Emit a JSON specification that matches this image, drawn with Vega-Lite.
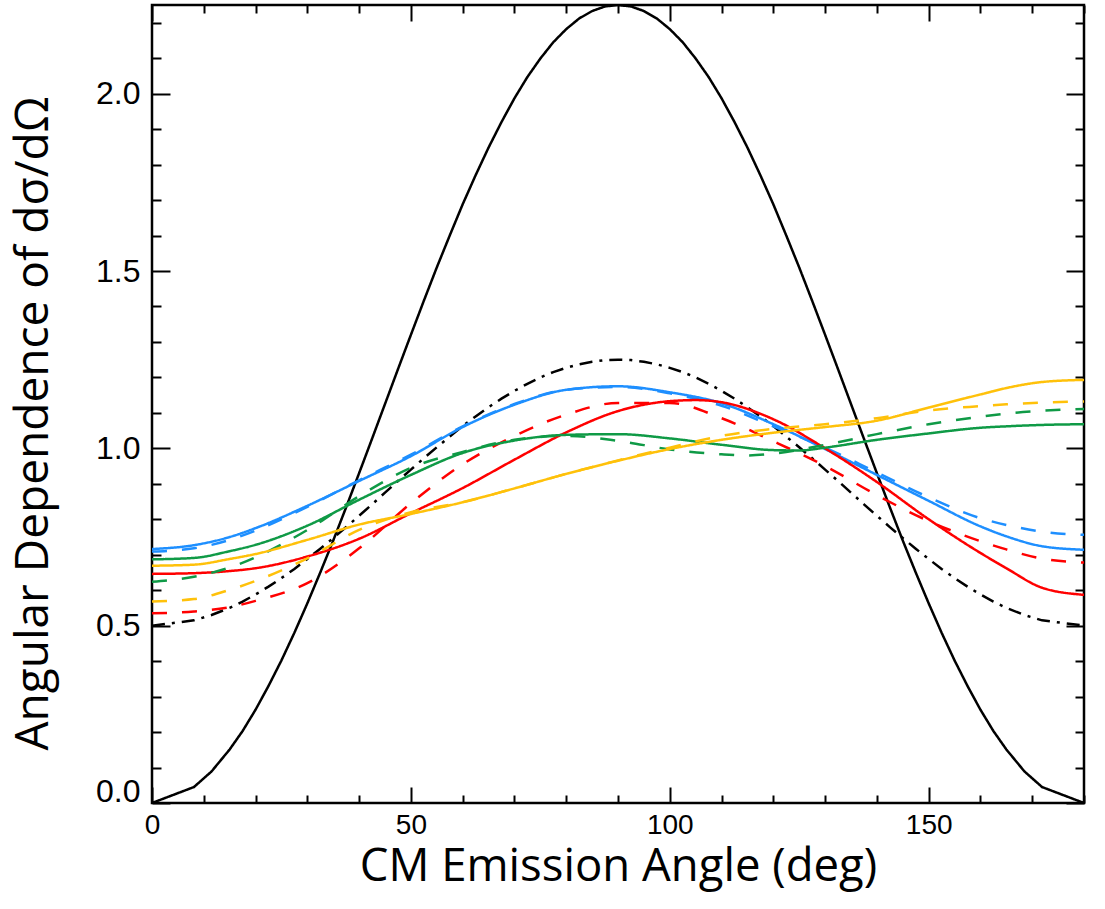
{
  "$schema": "https://vega.github.io/schema/vega-lite/v6.json",
  "autosize": "none",
  "width": 932,
  "height": 798,
  "padding": {"left": 152, "top": 5, "right": 21, "bottom": 106},
  "background": "white",
  "config": {"view": {"stroke": "black", "strokeWidth": 2.5}},
  "datasets": {
    "col": [
      {"a":0,"c":"blue","s":"solid","v":0.716},{"a":8.1,"c":"blue","s":"solid","v":0.727},{"a":15,"c":"blue","s":"solid","v":0.750},{"a":20,"c":"blue","s":"solid","v":0.775},{"a":30,"c":"blue","s":"solid","v":0.838},{"a":40,"c":"blue","s":"solid","v":0.908},{"a":50,"c":"blue","s":"solid","v":0.978},{"a":60,"c":"blue","s":"solid","v":1.060},{"a":70,"c":"blue","s":"solid","v":1.123},{"a":80,"c":"blue","s":"solid","v":1.165},{"a":90,"c":"blue","s":"solid","v":1.175},{"a":100,"c":"blue","s":"solid","v":1.158},{"a":110,"c":"blue","s":"solid","v":1.127},{"a":120,"c":"blue","s":"solid","v":1.068},{"a":130,"c":"blue","s":"solid","v":0.998},{"a":140,"c":"blue","s":"solid","v":0.925},{"a":150,"c":"blue","s":"solid","v":0.852},{"a":160,"c":"blue","s":"solid","v":0.780},{"a":165,"c":"blue","s":"solid","v":0.752},{"a":171.9,"c":"blue","s":"solid","v":0.724},{"a":180,"c":"blue","s":"solid","v":0.714},
      {"a":0,"c":"blue","s":"dashed","v":0.709},{"a":8.1,"c":"blue","s":"dashed","v":0.718},{"a":15,"c":"blue","s":"dashed","v":0.742},{"a":20,"c":"blue","s":"dashed","v":0.768},{"a":30,"c":"blue","s":"dashed","v":0.835},{"a":40,"c":"blue","s":"dashed","v":0.910},{"a":50,"c":"blue","s":"dashed","v":0.982},{"a":60,"c":"blue","s":"dashed","v":1.062},{"a":70,"c":"blue","s":"dashed","v":1.125},{"a":80,"c":"blue","s":"dashed","v":1.165},{"a":90,"c":"blue","s":"dashed","v":1.173},{"a":100,"c":"blue","s":"dashed","v":1.155},{"a":110,"c":"blue","s":"dashed","v":1.120},{"a":120,"c":"blue","s":"dashed","v":1.062},{"a":130,"c":"blue","s":"dashed","v":1.002},{"a":140,"c":"blue","s":"dashed","v":0.932},{"a":150,"c":"blue","s":"dashed","v":0.862},{"a":160,"c":"blue","s":"dashed","v":0.803},{"a":165,"c":"blue","s":"dashed","v":0.784},{"a":171.9,"c":"blue","s":"dashed","v":0.765},{"a":180,"c":"blue","s":"dashed","v":0.756},
      {"a":0,"c":"red","s":"solid","v":0.646},{"a":8.1,"c":"red","s":"solid","v":0.648},{"a":15,"c":"red","s":"solid","v":0.654},{"a":20,"c":"red","s":"solid","v":0.662},{"a":30,"c":"red","s":"solid","v":0.695},{"a":40,"c":"red","s":"solid","v":0.745},{"a":50,"c":"red","s":"solid","v":0.817},{"a":60,"c":"red","s":"solid","v":0.888},{"a":70,"c":"red","s":"solid","v":0.968},{"a":80,"c":"red","s":"solid","v":1.045},{"a":90,"c":"red","s":"solid","v":1.105},{"a":100,"c":"red","s":"solid","v":1.133},{"a":105,"c":"red","s":"solid","v":1.136},{"a":110,"c":"red","s":"solid","v":1.130},{"a":120,"c":"red","s":"solid","v":1.082},{"a":130,"c":"red","s":"solid","v":1.000},{"a":140,"c":"red","s":"solid","v":0.905},{"a":150,"c":"red","s":"solid","v":0.800},{"a":160,"c":"red","s":"solid","v":0.705},{"a":165,"c":"red","s":"solid","v":0.662},{"a":171.9,"c":"red","s":"solid","v":0.607},{"a":180,"c":"red","s":"solid","v":0.587},
      {"a":0,"c":"red","s":"dashed","v":0.535},{"a":8.1,"c":"red","s":"dashed","v":0.540},{"a":15,"c":"red","s":"dashed","v":0.552},{"a":20,"c":"red","s":"dashed","v":0.570},{"a":30,"c":"red","s":"dashed","v":0.620},{"a":40,"c":"red","s":"dashed","v":0.718},{"a":50,"c":"red","s":"dashed","v":0.845},{"a":60,"c":"red","s":"dashed","v":0.955},{"a":70,"c":"red","s":"dashed","v":1.035},{"a":80,"c":"red","s":"dashed","v":1.095},{"a":90,"c":"red","s":"dashed","v":1.128},{"a":100,"c":"red","s":"dashed","v":1.128},{"a":110,"c":"red","s":"dashed","v":1.085},{"a":120,"c":"red","s":"dashed","v":1.020},{"a":130,"c":"red","s":"dashed","v":0.950},{"a":140,"c":"red","s":"dashed","v":0.868},{"a":150,"c":"red","s":"dashed","v":0.795},{"a":160,"c":"red","s":"dashed","v":0.738},{"a":165,"c":"red","s":"dashed","v":0.715},{"a":171.9,"c":"red","s":"dashed","v":0.689},{"a":180,"c":"red","s":"dashed","v":0.678},
      {"a":0,"c":"green","s":"solid","v":0.687},{"a":8.1,"c":"green","s":"solid","v":0.691},{"a":15,"c":"green","s":"solid","v":0.710},{"a":20,"c":"green","s":"solid","v":0.728},{"a":30,"c":"green","s":"solid","v":0.782},{"a":40,"c":"green","s":"solid","v":0.855},{"a":50,"c":"green","s":"solid","v":0.925},{"a":60,"c":"green","s":"solid","v":0.987},{"a":70,"c":"green","s":"solid","v":1.022},{"a":80,"c":"green","s":"solid","v":1.038},{"a":90,"c":"green","s":"solid","v":1.040},{"a":100,"c":"green","s":"solid","v":1.028},{"a":110,"c":"green","s":"solid","v":1.010},{"a":120,"c":"green","s":"solid","v":0.995},{"a":125,"c":"green","s":"solid","v":0.994},{"a":130,"c":"green","s":"solid","v":1.002},{"a":140,"c":"green","s":"solid","v":1.024},{"a":150,"c":"green","s":"solid","v":1.042},{"a":160,"c":"green","s":"solid","v":1.058},{"a":165,"c":"green","s":"solid","v":1.062},{"a":171.9,"c":"green","s":"solid","v":1.066},{"a":180,"c":"green","s":"solid","v":1.068},
      {"a":0,"c":"green","s":"dashed","v":0.624},{"a":8.1,"c":"green","s":"dashed","v":0.638},{"a":15,"c":"green","s":"dashed","v":0.664},{"a":20,"c":"green","s":"dashed","v":0.693},{"a":30,"c":"green","s":"dashed","v":0.770},{"a":40,"c":"green","s":"dashed","v":0.865},{"a":50,"c":"green","s":"dashed","v":0.945},{"a":60,"c":"green","s":"dashed","v":0.990},{"a":70,"c":"green","s":"dashed","v":1.024},{"a":80,"c":"green","s":"dashed","v":1.035},{"a":90,"c":"green","s":"dashed","v":1.021},{"a":100,"c":"green","s":"dashed","v":0.997},{"a":110,"c":"green","s":"dashed","v":0.983},{"a":115,"c":"green","s":"dashed","v":0.980},{"a":120,"c":"green","s":"dashed","v":0.985},{"a":130,"c":"green","s":"dashed","v":1.010},{"a":140,"c":"green","s":"dashed","v":1.040},{"a":150,"c":"green","s":"dashed","v":1.068},{"a":160,"c":"green","s":"dashed","v":1.089},{"a":165,"c":"green","s":"dashed","v":1.098},{"a":171.9,"c":"green","s":"dashed","v":1.106},{"a":180,"c":"green","s":"dashed","v":1.111},
      {"a":0,"c":"yellow","s":"solid","v":0.669},{"a":8.1,"c":"yellow","s":"solid","v":0.672},{"a":15,"c":"yellow","s":"solid","v":0.688},{"a":20,"c":"yellow","s":"solid","v":0.702},{"a":30,"c":"yellow","s":"solid","v":0.742},{"a":40,"c":"yellow","s":"solid","v":0.785},{"a":50,"c":"yellow","s":"solid","v":0.815},{"a":60,"c":"yellow","s":"solid","v":0.848},{"a":70,"c":"yellow","s":"solid","v":0.887},{"a":80,"c":"yellow","s":"solid","v":0.928},{"a":90,"c":"yellow","s":"solid","v":0.965},{"a":100,"c":"yellow","s":"solid","v":0.998},{"a":110,"c":"yellow","s":"solid","v":1.024},{"a":120,"c":"yellow","s":"solid","v":1.044},{"a":130,"c":"yellow","s":"solid","v":1.060},{"a":140,"c":"yellow","s":"solid","v":1.078},{"a":150,"c":"yellow","s":"solid","v":1.115},{"a":160,"c":"yellow","s":"solid","v":1.152},{"a":165,"c":"yellow","s":"solid","v":1.170},{"a":171.9,"c":"yellow","s":"solid","v":1.187},{"a":180,"c":"yellow","s":"solid","v":1.193},
      {"a":0,"c":"yellow","s":"dashed","v":0.568},{"a":8.1,"c":"yellow","s":"dashed","v":0.575},{"a":15,"c":"yellow","s":"dashed","v":0.601},{"a":20,"c":"yellow","s":"dashed","v":0.626},{"a":30,"c":"yellow","s":"dashed","v":0.690},{"a":40,"c":"yellow","s":"dashed","v":0.770},{"a":50,"c":"yellow","s":"dashed","v":0.820},{"a":60,"c":"yellow","s":"dashed","v":0.848},{"a":70,"c":"yellow","s":"dashed","v":0.887},{"a":80,"c":"yellow","s":"dashed","v":0.928},{"a":90,"c":"yellow","s":"dashed","v":0.966},{"a":100,"c":"yellow","s":"dashed","v":1.002},{"a":110,"c":"yellow","s":"dashed","v":1.035},{"a":120,"c":"yellow","s":"dashed","v":1.055},{"a":130,"c":"yellow","s":"dashed","v":1.068},{"a":140,"c":"yellow","s":"dashed","v":1.085},{"a":150,"c":"yellow","s":"dashed","v":1.107},{"a":160,"c":"yellow","s":"dashed","v":1.119},{"a":165,"c":"yellow","s":"dashed","v":1.124},{"a":171.9,"c":"yellow","s":"dashed","v":1.129},{"a":180,"c":"yellow","s":"dashed","v":1.132}
    ],
    "blk": [
      {"a":0,"c":"black","s":"solid","v":0},{"a":8.1,"c":"black","s":"solid","v":0.045},{"a":11.5,"c":"black","s":"solid","v":0.089},{"a":15,"c":"black","s":"solid","v":0.151},{"a":17.5,"c":"black","s":"solid","v":0.203},{"a":20,"c":"black","s":"solid","v":0.263},{"a":22.5,"c":"black","s":"solid","v":0.330},{"a":25,"c":"black","s":"solid","v":0.402},{"a":27.5,"c":"black","s":"solid","v":0.480},{"a":30,"c":"black","s":"solid","v":0.563},{"a":32.5,"c":"black","s":"solid","v":0.650},{"a":35,"c":"black","s":"solid","v":0.740},{"a":37.5,"c":"black","s":"solid","v":0.834},{"a":40,"c":"black","s":"solid","v":0.930},{"a":42.5,"c":"black","s":"solid","v":1.027},{"a":45,"c":"black","s":"solid","v":1.125},{"a":47.5,"c":"black","s":"solid","v":1.223},{"a":50,"c":"black","s":"solid","v":1.320},{"a":52.5,"c":"black","s":"solid","v":1.416},{"a":55,"c":"black","s":"solid","v":1.510},{"a":57.5,"c":"black","s":"solid","v":1.600},{"a":60,"c":"black","s":"solid","v":1.688},{"a":62.5,"c":"black","s":"solid","v":1.770},{"a":65,"c":"black","s":"solid","v":1.848},{"a":67.5,"c":"black","s":"solid","v":1.920},{"a":70,"c":"black","s":"solid","v":1.987},{"a":72.5,"c":"black","s":"solid","v":2.047},{"a":75,"c":"black","s":"solid","v":2.099},{"a":77.5,"c":"black","s":"solid","v":2.145},{"a":80,"c":"black","s":"solid","v":2.182},{"a":82.5,"c":"black","s":"solid","v":2.212},{"a":85,"c":"black","s":"solid","v":2.233},{"a":87.5,"c":"black","s":"solid","v":2.246},{"a":90,"c":"black","s":"solid","v":2.25},{"a":92.5,"c":"black","s":"solid","v":2.246},{"a":95,"c":"black","s":"solid","v":2.233},{"a":97.5,"c":"black","s":"solid","v":2.212},{"a":100,"c":"black","s":"solid","v":2.182},{"a":102.5,"c":"black","s":"solid","v":2.145},{"a":105,"c":"black","s":"solid","v":2.099},{"a":107.5,"c":"black","s":"solid","v":2.047},{"a":110,"c":"black","s":"solid","v":1.987},{"a":112.5,"c":"black","s":"solid","v":1.920},{"a":115,"c":"black","s":"solid","v":1.848},{"a":117.5,"c":"black","s":"solid","v":1.770},{"a":120,"c":"black","s":"solid","v":1.688},{"a":122.5,"c":"black","s":"solid","v":1.600},{"a":125,"c":"black","s":"solid","v":1.510},{"a":127.5,"c":"black","s":"solid","v":1.416},{"a":130,"c":"black","s":"solid","v":1.320},{"a":132.5,"c":"black","s":"solid","v":1.223},{"a":135,"c":"black","s":"solid","v":1.125},{"a":137.5,"c":"black","s":"solid","v":1.027},{"a":140,"c":"black","s":"solid","v":0.930},{"a":142.5,"c":"black","s":"solid","v":0.834},{"a":145,"c":"black","s":"solid","v":0.740},{"a":147.5,"c":"black","s":"solid","v":0.650},{"a":150,"c":"black","s":"solid","v":0.563},{"a":152.5,"c":"black","s":"solid","v":0.480},{"a":155,"c":"black","s":"solid","v":0.402},{"a":157.5,"c":"black","s":"solid","v":0.330},{"a":160,"c":"black","s":"solid","v":0.263},{"a":162.5,"c":"black","s":"solid","v":0.203},{"a":165,"c":"black","s":"solid","v":0.151},{"a":168.5,"c":"black","s":"solid","v":0.089},{"a":171.9,"c":"black","s":"solid","v":0.045},{"a":180,"c":"black","s":"solid","v":0},
      {"a":0,"c":"black","s":"dashdot","v":0.500},{"a":8.1,"c":"black","s":"dashdot","v":0.515},{"a":11.5,"c":"black","s":"dashdot","v":0.530},{"a":15,"c":"black","s":"dashdot","v":0.550},{"a":17.5,"c":"black","s":"dashdot","v":0.568},{"a":20,"c":"black","s":"dashdot","v":0.588},{"a":22.5,"c":"black","s":"dashdot","v":0.610},{"a":25,"c":"black","s":"dashdot","v":0.634},{"a":27.5,"c":"black","s":"dashdot","v":0.660},{"a":30,"c":"black","s":"dashdot","v":0.688},{"a":32.5,"c":"black","s":"dashdot","v":0.717},{"a":35,"c":"black","s":"dashdot","v":0.747},{"a":37.5,"c":"black","s":"dashdot","v":0.778},{"a":40,"c":"black","s":"dashdot","v":0.810},{"a":42.5,"c":"black","s":"dashdot","v":0.842},{"a":45,"c":"black","s":"dashdot","v":0.875},{"a":47.5,"c":"black","s":"dashdot","v":0.908},{"a":50,"c":"black","s":"dashdot","v":0.940},{"a":52.5,"c":"black","s":"dashdot","v":0.972},{"a":55,"c":"black","s":"dashdot","v":1.003},{"a":57.5,"c":"black","s":"dashdot","v":1.033},{"a":60,"c":"black","s":"dashdot","v":1.063},{"a":62.5,"c":"black","s":"dashdot","v":1.090},{"a":65,"c":"black","s":"dashdot","v":1.116},{"a":67.5,"c":"black","s":"dashdot","v":1.140},{"a":70,"c":"black","s":"dashdot","v":1.162},{"a":72.5,"c":"black","s":"dashdot","v":1.182},{"a":75,"c":"black","s":"dashdot","v":1.200},{"a":77.5,"c":"black","s":"dashdot","v":1.215},{"a":80,"c":"black","s":"dashdot","v":1.227},{"a":82.5,"c":"black","s":"dashdot","v":1.237},{"a":85,"c":"black","s":"dashdot","v":1.244},{"a":87.5,"c":"black","s":"dashdot","v":1.249},{"a":90,"c":"black","s":"dashdot","v":1.250},{"a":92.5,"c":"black","s":"dashdot","v":1.249},{"a":95,"c":"black","s":"dashdot","v":1.244},{"a":97.5,"c":"black","s":"dashdot","v":1.237},{"a":100,"c":"black","s":"dashdot","v":1.227},{"a":102.5,"c":"black","s":"dashdot","v":1.215},{"a":105,"c":"black","s":"dashdot","v":1.200},{"a":107.5,"c":"black","s":"dashdot","v":1.182},{"a":110,"c":"black","s":"dashdot","v":1.162},{"a":112.5,"c":"black","s":"dashdot","v":1.140},{"a":115,"c":"black","s":"dashdot","v":1.116},{"a":117.5,"c":"black","s":"dashdot","v":1.090},{"a":120,"c":"black","s":"dashdot","v":1.063},{"a":122.5,"c":"black","s":"dashdot","v":1.033},{"a":125,"c":"black","s":"dashdot","v":1.003},{"a":127.5,"c":"black","s":"dashdot","v":0.972},{"a":130,"c":"black","s":"dashdot","v":0.940},{"a":132.5,"c":"black","s":"dashdot","v":0.908},{"a":135,"c":"black","s":"dashdot","v":0.875},{"a":137.5,"c":"black","s":"dashdot","v":0.842},{"a":140,"c":"black","s":"dashdot","v":0.810},{"a":142.5,"c":"black","s":"dashdot","v":0.778},{"a":145,"c":"black","s":"dashdot","v":0.747},{"a":147.5,"c":"black","s":"dashdot","v":0.717},{"a":150,"c":"black","s":"dashdot","v":0.688},{"a":152.5,"c":"black","s":"dashdot","v":0.660},{"a":155,"c":"black","s":"dashdot","v":0.634},{"a":157.5,"c":"black","s":"dashdot","v":0.610},{"a":160,"c":"black","s":"dashdot","v":0.588},{"a":162.5,"c":"black","s":"dashdot","v":0.568},{"a":165,"c":"black","s":"dashdot","v":0.550},{"a":168.5,"c":"black","s":"dashdot","v":0.530},{"a":171.9,"c":"black","s":"dashdot","v":0.515},{"a":180,"c":"black","s":"dashdot","v":0.500}
    ]
  },
  "resolve": {"axis": {"x": "independent", "y": "independent"}},
  "layer": [
    {
      "data": {"name": "blk"},
      "mark": {"type": "line", "strokeWidth": 2.5, "strokeCap": "butt", "clip": true},
      "encoding": {
        "x": {"field": "a", "type": "quantitative", "scale": {"domain": [0, 180], "nice": false, "zero": false},
          "axis": {"orient": "bottom", "values": [0,10,20,30,40,50,60,70,80,90,100,110,120,130,140,150,160,170,180],
            "labelExpr": "datum.value % 50 === 0 ? datum.label : ''",
            "tickSize": {"condition": {"test": "datum.value % 50 === 0", "value": -16}, "value": -8},
            "tickWidth": 2, "tickColor": "black", "domain": false, "grid": false,
            "labelFont": "Liberation Sans", "labelFontSize": 28, "labelColor": "black", "labelPadding": 24,
            "labelFlush": false, "labelOverlap": false, "labelBound": false,
            "title": "CM Emission Angle (deg)", "titleFont": "Open Sans", "titleFontSize": 45.5, "titleFontWeight": "normal",
            "titleColor": "black", "titleY": 77, "titleBaseline": "alphabetic", "titleX": 466, "titleAlign": "center"}},
        "y": {"field": "v", "type": "quantitative", "scale": {"domain": [0, 2.25], "nice": false, "zero": false},
          "axis": {"orient": "left", "values": [0,0.1,0.2,0.3,0.4,0.5,0.6,0.7,0.8,0.9,1.0,1.1,1.2,1.3,1.4,1.5,1.6,1.7,1.8,1.9,2.0,2.1,2.2],
            "labelExpr": "round(datum.value*10) % 5 === 0 ? format(datum.value, '.1f') : ''",
            "tickSize": {"condition": {"test": "round(datum.value*10) % 5 === 0", "value": -18}, "value": -9},
            "tickWidth": 2, "tickColor": "black", "domain": false, "grid": false,
            "labelFont": "Liberation Sans", "labelFontSize": 32, "labelColor": "black", "labelPadding": 30,
            "labelOverlap": false, "labelBound": false, "labelFlush": true, "labelFlushOffset": 5,
            "title": "Angular Dependence of dσ/dΩ", "titleFont": "Open Sans", "titleFontSize": 46, "titleFontWeight": "normal",
            "titleColor": "black", "titleX": -105, "titleY": 418, "titleAngle": -90, "titleBaseline": "alphabetic", "titleAlign": "center"}},
        "color": {"field": "c", "type": "nominal", "legend": null,
          "scale": {"domain": ["black","blue","red","green","yellow"], "range": ["#000000","#1e8fff","#ff0000","#0f9a46","#ffc10a"]}},
        "strokeDash": {"field": "s", "type": "nominal", "legend": null,
          "scale": {"domain": ["solid","dashed","dashdot"], "range": [[1,0],[15,15],[13,7,3,7]]}}
      }
    },
    {
      "data": {"name": "col"},
      "mark": {"type": "line", "strokeWidth": 2.5, "strokeCap": "butt", "interpolate": "monotone", "clip": true},
      "encoding": {
        "x": {"field": "a", "type": "quantitative", "axis": null},
        "y": {"field": "v", "type": "quantitative", "axis": null},
        "color": {"field": "c", "type": "nominal", "legend": null},
        "strokeDash": {"field": "s", "type": "nominal", "legend": null}
      }
    },
    {
      "data": {"name": "blk"},
      "mark": {"type": "point", "opacity": 0},
      "encoding": {
        "x": {"field": "a", "type": "quantitative",
          "axis": {"orient": "top", "values": [0,10,20,30,40,50,60,70,80,90,100,110,120,130,140,150,160,170,180],
            "labels": false, "title": null, "domain": false, "grid": false, "tickWidth": 2, "tickColor": "black",
            "tickSize": {"condition": {"test": "datum.value % 50 === 0", "value": -16}, "value": -8}}},
        "y": {"field": "v", "type": "quantitative",
          "axis": {"orient": "right", "values": [0,0.1,0.2,0.3,0.4,0.5,0.6,0.7,0.8,0.9,1.0,1.1,1.2,1.3,1.4,1.5,1.6,1.7,1.8,1.9,2.0,2.1,2.2],
            "labels": false, "title": null, "domain": false, "grid": false, "tickWidth": 2, "tickColor": "black",
            "tickSize": {"condition": {"test": "round(datum.value*10) % 5 === 0", "value": -18}, "value": -9}}}
      }
    }
  ]
}
